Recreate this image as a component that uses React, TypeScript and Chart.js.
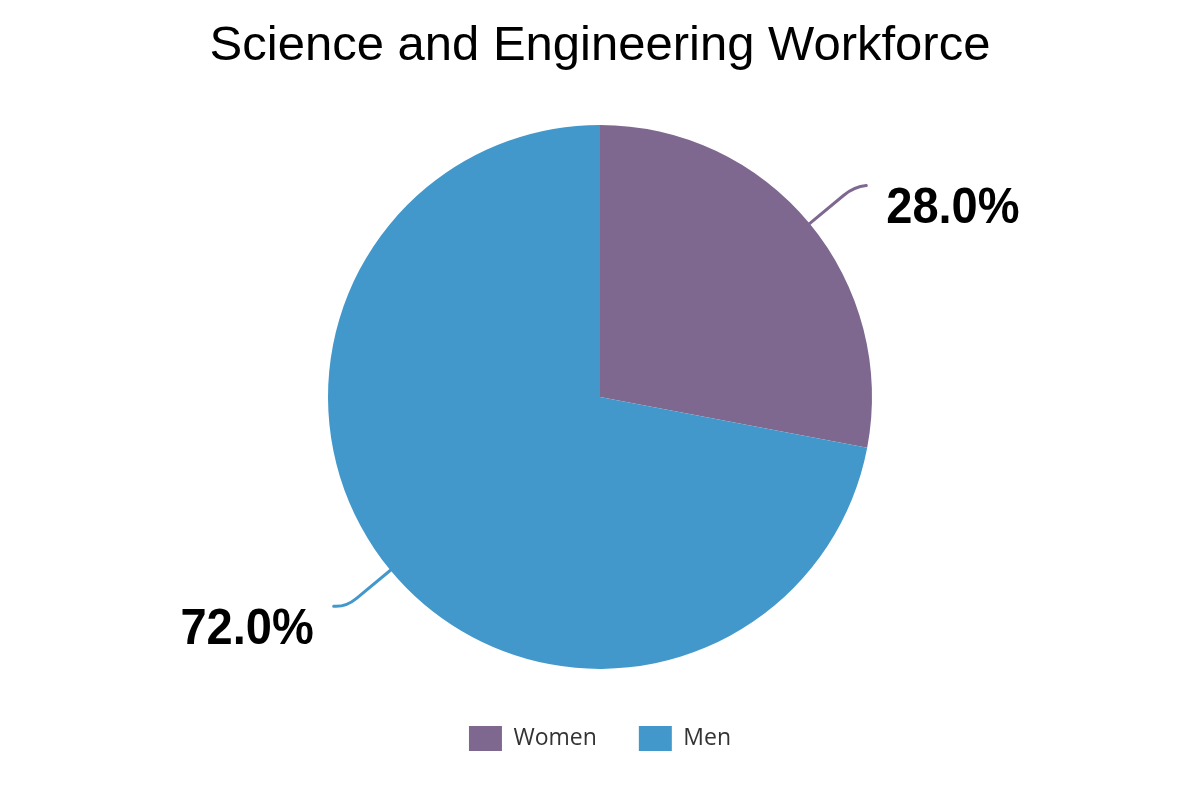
import React, { useEffect, useRef } from "react";
import { Chart, registerables } from "chart.js";

Chart.register(...registerables);

const categories = ["Women", "Men"];
const shares = [28.0, 72.0];
const sliceColors = ["#7E6890", "#4398CB"];
const chartTitle = "Science and Engineering Workforce";

const leaderPlugin = {
  id: "leaderLabels",
  afterDatasetsDraw(chart: any) {
    const ctx = chart.ctx;
    const meta = chart.getDatasetMeta(0);
    const total = shares.reduce((a, b) => a + b, 0);
    meta.data.forEach((arc: any, i: number) => {
      const { x, y, startAngle, endAngle, outerRadius } = arc.getProps(
        ["x", "y", "startAngle", "endAngle", "outerRadius"],
        true
      );
      const mid = (startAngle + endAngle) / 2;
      const cos = Math.cos(mid);
      const sin = Math.sin(mid);
      const sign = cos >= 0 ? 1 : -1;
      const p0 = { x: x + cos * (outerRadius - 2), y: y + sin * (outerRadius - 2) };
      const p1 = { x: x + cos * (outerRadius + 44), y: y + sin * (outerRadius + 44) };
      const pc = { x: x + cos * (outerRadius + 58), y: y + sin * (outerRadius + 58) };
      const p2 = { x: pc.x + 12 * sign, y: pc.y - 1 };
      ctx.save();
      ctx.strokeStyle = sliceColors[i];
      ctx.lineWidth = 3;
      ctx.lineCap = "round";
      ctx.beginPath();
      ctx.moveTo(p0.x, p0.y);
      ctx.lineTo(p1.x, p1.y);
      ctx.quadraticCurveTo(pc.x, pc.y, p2.x, p2.y);
      ctx.stroke();
      const text = ((shares[i] / total) * 100).toFixed(1) + "%";
      const lx = p2.x + 20 * sign;
      const ly = p2.y + 24;
      ctx.font = "bold 50px 'Liberation Sans', Arial, sans-serif";
      ctx.fillStyle = "#000000";
      ctx.textBaseline = "middle";
      ctx.textAlign = sign > 0 ? "left" : "right";
      ctx.translate(lx, ly);
      ctx.scale(0.94, 1);
      ctx.fillText(text, 0, 0);
      ctx.restore();
    });
  },
};

export default function App() {
  const canvasRef = useRef<HTMLCanvasElement | null>(null);

  useEffect(() => {
    if (!canvasRef.current) return;
    const chart = new Chart(canvasRef.current, {
      type: "pie",
      data: {
        labels: categories,
        datasets: [
          {
            data: shares,
            backgroundColor: sliceColors,
            borderWidth: 0,
            radius: 272,
          },
        ],
      },
      options: {
        responsive: false,
        animation: false,
        layout: { padding: { top: 0, bottom: 39, left: 0, right: 0 } },
        plugins: {
          title: {
            display: true,
            text: chartTitle,
            color: "#000000",
            font: { family: "'Liberation Sans', Arial, sans-serif", size: 49, weight: "normal" },
            padding: { top: 17, bottom: 34 },
          },
          legend: {
            display: true,
            position: "bottom",
            labels: {
              boxWidth: 33,
              boxHeight: 25,
              padding: 42,
              color: "#333333",
              font: { family: "'Open Sans', sans-serif", size: 23 },
            },
          },
          tooltip: { enabled: false },
        },
      },
      plugins: [leaderPlugin],
    });
    return () => chart.destroy();
  }, []);

  return (
    <div style={{ position: "fixed", left: 0, top: 0, width: 1200, height: 800, background: "#ffffff" }}>
      <canvas ref={canvasRef} width={1200} height={800} style={{ display: "block" }} />
    </div>
  );
}
